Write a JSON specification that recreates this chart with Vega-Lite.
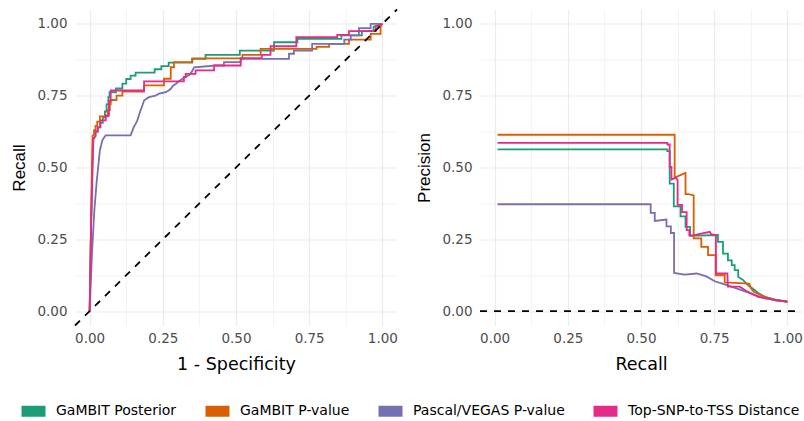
{
  "$schema": "https://vega.github.io/schema/vega-lite/v6.json",
  "background": "white",
  "padding": {"left": 10, "top": 5.5, "right": 0, "bottom": 2},
  "datasets": {
    "roc": [
      {"method": "GaMBIT Posterior", "x": 0, "y": 0},
      {"method": "GaMBIT Posterior", "x": 0.004, "y": 0.25},
      {"method": "GaMBIT Posterior", "x": 0.008, "y": 0.45},
      {"method": "GaMBIT Posterior", "x": 0.011, "y": 0.59},
      {"method": "GaMBIT Posterior", "x": 0.013, "y": 0.6},
      {"method": "GaMBIT Posterior", "x": 0.02, "y": 0.61},
      {"method": "GaMBIT Posterior", "x": 0.02, "y": 0.625},
      {"method": "GaMBIT Posterior", "x": 0.028, "y": 0.625},
      {"method": "GaMBIT Posterior", "x": 0.028, "y": 0.64},
      {"method": "GaMBIT Posterior", "x": 0.036, "y": 0.64},
      {"method": "GaMBIT Posterior", "x": 0.036, "y": 0.655},
      {"method": "GaMBIT Posterior", "x": 0.045, "y": 0.655},
      {"method": "GaMBIT Posterior", "x": 0.045, "y": 0.675},
      {"method": "GaMBIT Posterior", "x": 0.052, "y": 0.675},
      {"method": "GaMBIT Posterior", "x": 0.052, "y": 0.695},
      {"method": "GaMBIT Posterior", "x": 0.058, "y": 0.695},
      {"method": "GaMBIT Posterior", "x": 0.058, "y": 0.72},
      {"method": "GaMBIT Posterior", "x": 0.064, "y": 0.72},
      {"method": "GaMBIT Posterior", "x": 0.064, "y": 0.745},
      {"method": "GaMBIT Posterior", "x": 0.068, "y": 0.745},
      {"method": "GaMBIT Posterior", "x": 0.068, "y": 0.762},
      {"method": "GaMBIT Posterior", "x": 0.09, "y": 0.762},
      {"method": "GaMBIT Posterior", "x": 0.09, "y": 0.775},
      {"method": "GaMBIT Posterior", "x": 0.112, "y": 0.775},
      {"method": "GaMBIT Posterior", "x": 0.112, "y": 0.792},
      {"method": "GaMBIT Posterior", "x": 0.125, "y": 0.792},
      {"method": "GaMBIT Posterior", "x": 0.125, "y": 0.808},
      {"method": "GaMBIT Posterior", "x": 0.14, "y": 0.808},
      {"method": "GaMBIT Posterior", "x": 0.14, "y": 0.82},
      {"method": "GaMBIT Posterior", "x": 0.157, "y": 0.82},
      {"method": "GaMBIT Posterior", "x": 0.157, "y": 0.83},
      {"method": "GaMBIT Posterior", "x": 0.222, "y": 0.83},
      {"method": "GaMBIT Posterior", "x": 0.222, "y": 0.842},
      {"method": "GaMBIT Posterior", "x": 0.245, "y": 0.842},
      {"method": "GaMBIT Posterior", "x": 0.245, "y": 0.853},
      {"method": "GaMBIT Posterior", "x": 0.27, "y": 0.853},
      {"method": "GaMBIT Posterior", "x": 0.27, "y": 0.865},
      {"method": "GaMBIT Posterior", "x": 0.35, "y": 0.865},
      {"method": "GaMBIT Posterior", "x": 0.35, "y": 0.878},
      {"method": "GaMBIT Posterior", "x": 0.396, "y": 0.878},
      {"method": "GaMBIT Posterior", "x": 0.396, "y": 0.892},
      {"method": "GaMBIT Posterior", "x": 0.513, "y": 0.892},
      {"method": "GaMBIT Posterior", "x": 0.513, "y": 0.907},
      {"method": "GaMBIT Posterior", "x": 0.63, "y": 0.907},
      {"method": "GaMBIT Posterior", "x": 0.63, "y": 0.936},
      {"method": "GaMBIT Posterior", "x": 0.71, "y": 0.936},
      {"method": "GaMBIT Posterior", "x": 0.71, "y": 0.948},
      {"method": "GaMBIT Posterior", "x": 0.86, "y": 0.948},
      {"method": "GaMBIT Posterior", "x": 0.86, "y": 0.96},
      {"method": "GaMBIT Posterior", "x": 0.93, "y": 0.96},
      {"method": "GaMBIT Posterior", "x": 0.93, "y": 0.975},
      {"method": "GaMBIT Posterior", "x": 0.97, "y": 0.975},
      {"method": "GaMBIT Posterior", "x": 0.97, "y": 0.99},
      {"method": "GaMBIT Posterior", "x": 1, "y": 1},

      {"method": "GaMBIT P-value", "x": 0, "y": 0},
      {"method": "GaMBIT P-value", "x": 0.004, "y": 0.25},
      {"method": "GaMBIT P-value", "x": 0.008, "y": 0.5},
      {"method": "GaMBIT P-value", "x": 0.01, "y": 0.61},
      {"method": "GaMBIT P-value", "x": 0.015, "y": 0.615},
      {"method": "GaMBIT P-value", "x": 0.015, "y": 0.63},
      {"method": "GaMBIT P-value", "x": 0.02, "y": 0.63},
      {"method": "GaMBIT P-value", "x": 0.02, "y": 0.645},
      {"method": "GaMBIT P-value", "x": 0.026, "y": 0.645},
      {"method": "GaMBIT P-value", "x": 0.026, "y": 0.66},
      {"method": "GaMBIT P-value", "x": 0.035, "y": 0.66},
      {"method": "GaMBIT P-value", "x": 0.035, "y": 0.678},
      {"method": "GaMBIT P-value", "x": 0.062, "y": 0.678},
      {"method": "GaMBIT P-value", "x": 0.062, "y": 0.7},
      {"method": "GaMBIT P-value", "x": 0.069, "y": 0.7},
      {"method": "GaMBIT P-value", "x": 0.069, "y": 0.72},
      {"method": "GaMBIT P-value", "x": 0.072, "y": 0.72},
      {"method": "GaMBIT P-value", "x": 0.072, "y": 0.735},
      {"method": "GaMBIT P-value", "x": 0.092, "y": 0.735},
      {"method": "GaMBIT P-value", "x": 0.092, "y": 0.75},
      {"method": "GaMBIT P-value", "x": 0.112, "y": 0.75},
      {"method": "GaMBIT P-value", "x": 0.112, "y": 0.764},
      {"method": "GaMBIT P-value", "x": 0.186, "y": 0.764},
      {"method": "GaMBIT P-value", "x": 0.186, "y": 0.786},
      {"method": "GaMBIT P-value", "x": 0.254, "y": 0.786},
      {"method": "GaMBIT P-value", "x": 0.254, "y": 0.809},
      {"method": "GaMBIT P-value", "x": 0.277, "y": 0.809},
      {"method": "GaMBIT P-value", "x": 0.277, "y": 0.849},
      {"method": "GaMBIT P-value", "x": 0.288, "y": 0.849},
      {"method": "GaMBIT P-value", "x": 0.288, "y": 0.867},
      {"method": "GaMBIT P-value", "x": 0.351, "y": 0.867},
      {"method": "GaMBIT P-value", "x": 0.351, "y": 0.88},
      {"method": "GaMBIT P-value", "x": 0.522, "y": 0.88},
      {"method": "GaMBIT P-value", "x": 0.522, "y": 0.892},
      {"method": "GaMBIT P-value", "x": 0.584, "y": 0.892},
      {"method": "GaMBIT P-value", "x": 0.584, "y": 0.913},
      {"method": "GaMBIT P-value", "x": 0.775, "y": 0.913},
      {"method": "GaMBIT P-value", "x": 0.775, "y": 0.92},
      {"method": "GaMBIT P-value", "x": 0.818, "y": 0.92},
      {"method": "GaMBIT P-value", "x": 0.818, "y": 0.93},
      {"method": "GaMBIT P-value", "x": 0.886, "y": 0.93},
      {"method": "GaMBIT P-value", "x": 0.886, "y": 0.945},
      {"method": "GaMBIT P-value", "x": 0.96, "y": 0.945},
      {"method": "GaMBIT P-value", "x": 0.96, "y": 0.965},
      {"method": "GaMBIT P-value", "x": 0.994, "y": 0.965},
      {"method": "GaMBIT P-value", "x": 0.994, "y": 0.99},
      {"method": "GaMBIT P-value", "x": 1, "y": 1},

      {"method": "Pascal/VEGAS P-value", "x": 0, "y": 0},
      {"method": "Pascal/VEGAS P-value", "x": 0.008, "y": 0.2},
      {"method": "Pascal/VEGAS P-value", "x": 0.016, "y": 0.35},
      {"method": "Pascal/VEGAS P-value", "x": 0.024, "y": 0.45},
      {"method": "Pascal/VEGAS P-value", "x": 0.028, "y": 0.49},
      {"method": "Pascal/VEGAS P-value", "x": 0.032, "y": 0.53},
      {"method": "Pascal/VEGAS P-value", "x": 0.035, "y": 0.56},
      {"method": "Pascal/VEGAS P-value", "x": 0.04, "y": 0.58},
      {"method": "Pascal/VEGAS P-value", "x": 0.043, "y": 0.594},
      {"method": "Pascal/VEGAS P-value", "x": 0.05, "y": 0.605},
      {"method": "Pascal/VEGAS P-value", "x": 0.055, "y": 0.612},
      {"method": "Pascal/VEGAS P-value", "x": 0.14, "y": 0.612},
      {"method": "Pascal/VEGAS P-value", "x": 0.145, "y": 0.625},
      {"method": "Pascal/VEGAS P-value", "x": 0.151, "y": 0.641},
      {"method": "Pascal/VEGAS P-value", "x": 0.157, "y": 0.652},
      {"method": "Pascal/VEGAS P-value", "x": 0.163, "y": 0.664},
      {"method": "Pascal/VEGAS P-value", "x": 0.168, "y": 0.68},
      {"method": "Pascal/VEGAS P-value", "x": 0.174, "y": 0.699},
      {"method": "Pascal/VEGAS P-value", "x": 0.18, "y": 0.715},
      {"method": "Pascal/VEGAS P-value", "x": 0.186, "y": 0.733},
      {"method": "Pascal/VEGAS P-value", "x": 0.195, "y": 0.74},
      {"method": "Pascal/VEGAS P-value", "x": 0.203, "y": 0.745},
      {"method": "Pascal/VEGAS P-value", "x": 0.225, "y": 0.75},
      {"method": "Pascal/VEGAS P-value", "x": 0.237, "y": 0.757},
      {"method": "Pascal/VEGAS P-value", "x": 0.26, "y": 0.762},
      {"method": "Pascal/VEGAS P-value", "x": 0.27, "y": 0.768},
      {"method": "Pascal/VEGAS P-value", "x": 0.277, "y": 0.774},
      {"method": "Pascal/VEGAS P-value", "x": 0.285, "y": 0.785},
      {"method": "Pascal/VEGAS P-value", "x": 0.294, "y": 0.791},
      {"method": "Pascal/VEGAS P-value", "x": 0.305, "y": 0.8},
      {"method": "Pascal/VEGAS P-value", "x": 0.317, "y": 0.809},
      {"method": "Pascal/VEGAS P-value", "x": 0.328, "y": 0.815},
      {"method": "Pascal/VEGAS P-value", "x": 0.34, "y": 0.822},
      {"method": "Pascal/VEGAS P-value", "x": 0.35, "y": 0.835},
      {"method": "Pascal/VEGAS P-value", "x": 0.357, "y": 0.849},
      {"method": "Pascal/VEGAS P-value", "x": 0.43, "y": 0.855},
      {"method": "Pascal/VEGAS P-value", "x": 0.459, "y": 0.855},
      {"method": "Pascal/VEGAS P-value", "x": 0.459, "y": 0.867},
      {"method": "Pascal/VEGAS P-value", "x": 0.516, "y": 0.867},
      {"method": "Pascal/VEGAS P-value", "x": 0.516, "y": 0.878},
      {"method": "Pascal/VEGAS P-value", "x": 0.681, "y": 0.878},
      {"method": "Pascal/VEGAS P-value", "x": 0.681, "y": 0.896},
      {"method": "Pascal/VEGAS P-value", "x": 0.698, "y": 0.896},
      {"method": "Pascal/VEGAS P-value", "x": 0.698, "y": 0.907},
      {"method": "Pascal/VEGAS P-value", "x": 0.76, "y": 0.907},
      {"method": "Pascal/VEGAS P-value", "x": 0.76, "y": 0.93},
      {"method": "Pascal/VEGAS P-value", "x": 0.87, "y": 0.93},
      {"method": "Pascal/VEGAS P-value", "x": 0.87, "y": 0.945},
      {"method": "Pascal/VEGAS P-value", "x": 0.892, "y": 0.945},
      {"method": "Pascal/VEGAS P-value", "x": 0.892, "y": 0.96},
      {"method": "Pascal/VEGAS P-value", "x": 0.92, "y": 0.96},
      {"method": "Pascal/VEGAS P-value", "x": 0.92, "y": 0.985},
      {"method": "Pascal/VEGAS P-value", "x": 0.96, "y": 0.985},
      {"method": "Pascal/VEGAS P-value", "x": 0.96, "y": 1},
      {"method": "Pascal/VEGAS P-value", "x": 1, "y": 1},

      {"method": "Top-SNP-to-TSS Distance", "x": 0, "y": 0},
      {"method": "Top-SNP-to-TSS Distance", "x": 0.005, "y": 0.3},
      {"method": "Top-SNP-to-TSS Distance", "x": 0.01, "y": 0.5},
      {"method": "Top-SNP-to-TSS Distance", "x": 0.013, "y": 0.6},
      {"method": "Top-SNP-to-TSS Distance", "x": 0.02, "y": 0.61},
      {"method": "Top-SNP-to-TSS Distance", "x": 0.02, "y": 0.625},
      {"method": "Top-SNP-to-TSS Distance", "x": 0.027, "y": 0.625},
      {"method": "Top-SNP-to-TSS Distance", "x": 0.027, "y": 0.64},
      {"method": "Top-SNP-to-TSS Distance", "x": 0.037, "y": 0.64},
      {"method": "Top-SNP-to-TSS Distance", "x": 0.037, "y": 0.664},
      {"method": "Top-SNP-to-TSS Distance", "x": 0.055, "y": 0.664},
      {"method": "Top-SNP-to-TSS Distance", "x": 0.055, "y": 0.681},
      {"method": "Top-SNP-to-TSS Distance", "x": 0.066, "y": 0.681},
      {"method": "Top-SNP-to-TSS Distance", "x": 0.066, "y": 0.733},
      {"method": "Top-SNP-to-TSS Distance", "x": 0.072, "y": 0.733},
      {"method": "Top-SNP-to-TSS Distance", "x": 0.072, "y": 0.768},
      {"method": "Top-SNP-to-TSS Distance", "x": 0.186, "y": 0.768},
      {"method": "Top-SNP-to-TSS Distance", "x": 0.186, "y": 0.8},
      {"method": "Top-SNP-to-TSS Distance", "x": 0.322, "y": 0.8},
      {"method": "Top-SNP-to-TSS Distance", "x": 0.322, "y": 0.815},
      {"method": "Top-SNP-to-TSS Distance", "x": 0.328, "y": 0.815},
      {"method": "Top-SNP-to-TSS Distance", "x": 0.328, "y": 0.826},
      {"method": "Top-SNP-to-TSS Distance", "x": 0.362, "y": 0.826},
      {"method": "Top-SNP-to-TSS Distance", "x": 0.362, "y": 0.838},
      {"method": "Top-SNP-to-TSS Distance", "x": 0.425, "y": 0.838},
      {"method": "Top-SNP-to-TSS Distance", "x": 0.425, "y": 0.855},
      {"method": "Top-SNP-to-TSS Distance", "x": 0.516, "y": 0.855},
      {"method": "Top-SNP-to-TSS Distance", "x": 0.516, "y": 0.881},
      {"method": "Top-SNP-to-TSS Distance", "x": 0.588, "y": 0.881},
      {"method": "Top-SNP-to-TSS Distance", "x": 0.588, "y": 0.892},
      {"method": "Top-SNP-to-TSS Distance", "x": 0.618, "y": 0.892},
      {"method": "Top-SNP-to-TSS Distance", "x": 0.618, "y": 0.922},
      {"method": "Top-SNP-to-TSS Distance", "x": 0.706, "y": 0.922},
      {"method": "Top-SNP-to-TSS Distance", "x": 0.706, "y": 0.954},
      {"method": "Top-SNP-to-TSS Distance", "x": 0.846, "y": 0.954},
      {"method": "Top-SNP-to-TSS Distance", "x": 0.846, "y": 0.962},
      {"method": "Top-SNP-to-TSS Distance", "x": 0.886, "y": 0.962},
      {"method": "Top-SNP-to-TSS Distance", "x": 0.886, "y": 0.975},
      {"method": "Top-SNP-to-TSS Distance", "x": 0.977, "y": 0.975},
      {"method": "Top-SNP-to-TSS Distance", "x": 0.977, "y": 0.99},
      {"method": "Top-SNP-to-TSS Distance", "x": 1, "y": 1}
    ],
    "pr": [
      {"method": "GaMBIT Posterior", "x": 0.01, "y": 0.563},
      {"method": "GaMBIT Posterior", "x": 0.59, "y": 0.563},
      {"method": "GaMBIT Posterior", "x": 0.59, "y": 0.557},
      {"method": "GaMBIT Posterior", "x": 0.598, "y": 0.557},
      {"method": "GaMBIT Posterior", "x": 0.598, "y": 0.444},
      {"method": "GaMBIT Posterior", "x": 0.612, "y": 0.444},
      {"method": "GaMBIT Posterior", "x": 0.612, "y": 0.365},
      {"method": "GaMBIT Posterior", "x": 0.635, "y": 0.365},
      {"method": "GaMBIT Posterior", "x": 0.635, "y": 0.33},
      {"method": "GaMBIT Posterior", "x": 0.652, "y": 0.33},
      {"method": "GaMBIT Posterior", "x": 0.652, "y": 0.293},
      {"method": "GaMBIT Posterior", "x": 0.668, "y": 0.293},
      {"method": "GaMBIT Posterior", "x": 0.668, "y": 0.262},
      {"method": "GaMBIT Posterior", "x": 0.763, "y": 0.265},
      {"method": "GaMBIT Posterior", "x": 0.763, "y": 0.241},
      {"method": "GaMBIT Posterior", "x": 0.78, "y": 0.241},
      {"method": "GaMBIT Posterior", "x": 0.78, "y": 0.2},
      {"method": "GaMBIT Posterior", "x": 0.797, "y": 0.2},
      {"method": "GaMBIT Posterior", "x": 0.797, "y": 0.177},
      {"method": "GaMBIT Posterior", "x": 0.81, "y": 0.177},
      {"method": "GaMBIT Posterior", "x": 0.81, "y": 0.16},
      {"method": "GaMBIT Posterior", "x": 0.82, "y": 0.16},
      {"method": "GaMBIT Posterior", "x": 0.82, "y": 0.143},
      {"method": "GaMBIT Posterior", "x": 0.832, "y": 0.143},
      {"method": "GaMBIT Posterior", "x": 0.832, "y": 0.12},
      {"method": "GaMBIT Posterior", "x": 0.849, "y": 0.108},
      {"method": "GaMBIT Posterior", "x": 0.866, "y": 0.09},
      {"method": "GaMBIT Posterior", "x": 0.889, "y": 0.073},
      {"method": "GaMBIT Posterior", "x": 0.905, "y": 0.06},
      {"method": "GaMBIT Posterior", "x": 0.923, "y": 0.05},
      {"method": "GaMBIT Posterior", "x": 0.96, "y": 0.04},
      {"method": "GaMBIT Posterior", "x": 1, "y": 0.033},

      {"method": "GaMBIT P-value", "x": 0.01, "y": 0.614},
      {"method": "GaMBIT P-value", "x": 0.615, "y": 0.614},
      {"method": "GaMBIT P-value", "x": 0.615, "y": 0.465},
      {"method": "GaMBIT P-value", "x": 0.652, "y": 0.481},
      {"method": "GaMBIT P-value", "x": 0.652, "y": 0.407},
      {"method": "GaMBIT P-value", "x": 0.662, "y": 0.407},
      {"method": "GaMBIT P-value", "x": 0.68, "y": 0.403},
      {"method": "GaMBIT P-value", "x": 0.68, "y": 0.253},
      {"method": "GaMBIT P-value", "x": 0.706, "y": 0.253},
      {"method": "GaMBIT P-value", "x": 0.706, "y": 0.224},
      {"method": "GaMBIT P-value", "x": 0.729, "y": 0.224},
      {"method": "GaMBIT P-value", "x": 0.729, "y": 0.195},
      {"method": "GaMBIT P-value", "x": 0.755, "y": 0.195},
      {"method": "GaMBIT P-value", "x": 0.755, "y": 0.125},
      {"method": "GaMBIT P-value", "x": 0.786, "y": 0.125},
      {"method": "GaMBIT P-value", "x": 0.786, "y": 0.1},
      {"method": "GaMBIT P-value", "x": 0.87, "y": 0.096},
      {"method": "GaMBIT P-value", "x": 0.875, "y": 0.08},
      {"method": "GaMBIT P-value", "x": 0.885, "y": 0.067},
      {"method": "GaMBIT P-value", "x": 0.923, "y": 0.05},
      {"method": "GaMBIT P-value", "x": 0.96, "y": 0.037},
      {"method": "GaMBIT P-value", "x": 1, "y": 0.033},

      {"method": "Pascal/VEGAS P-value", "x": 0.01, "y": 0.372},
      {"method": "Pascal/VEGAS P-value", "x": 0.533, "y": 0.372},
      {"method": "Pascal/VEGAS P-value", "x": 0.533, "y": 0.342},
      {"method": "Pascal/VEGAS P-value", "x": 0.547, "y": 0.342},
      {"method": "Pascal/VEGAS P-value", "x": 0.547, "y": 0.314},
      {"method": "Pascal/VEGAS P-value", "x": 0.587, "y": 0.319},
      {"method": "Pascal/VEGAS P-value", "x": 0.587, "y": 0.295},
      {"method": "Pascal/VEGAS P-value", "x": 0.602, "y": 0.295},
      {"method": "Pascal/VEGAS P-value", "x": 0.602, "y": 0.272},
      {"method": "Pascal/VEGAS P-value", "x": 0.613, "y": 0.272},
      {"method": "Pascal/VEGAS P-value", "x": 0.613, "y": 0.133},
      {"method": "Pascal/VEGAS P-value", "x": 0.649, "y": 0.127},
      {"method": "Pascal/VEGAS P-value", "x": 0.69, "y": 0.131},
      {"method": "Pascal/VEGAS P-value", "x": 0.723, "y": 0.121},
      {"method": "Pascal/VEGAS P-value", "x": 0.752, "y": 0.104},
      {"method": "Pascal/VEGAS P-value", "x": 0.78, "y": 0.095},
      {"method": "Pascal/VEGAS P-value", "x": 0.809, "y": 0.085},
      {"method": "Pascal/VEGAS P-value", "x": 0.86, "y": 0.067},
      {"method": "Pascal/VEGAS P-value", "x": 0.923, "y": 0.044},
      {"method": "Pascal/VEGAS P-value", "x": 1, "y": 0.032},

      {"method": "Top-SNP-to-TSS Distance", "x": 0.01, "y": 0.586},
      {"method": "Top-SNP-to-TSS Distance", "x": 0.59, "y": 0.586},
      {"method": "Top-SNP-to-TSS Distance", "x": 0.59, "y": 0.58},
      {"method": "Top-SNP-to-TSS Distance", "x": 0.598, "y": 0.58},
      {"method": "Top-SNP-to-TSS Distance", "x": 0.598, "y": 0.502},
      {"method": "Top-SNP-to-TSS Distance", "x": 0.604, "y": 0.502},
      {"method": "Top-SNP-to-TSS Distance", "x": 0.604, "y": 0.458},
      {"method": "Top-SNP-to-TSS Distance", "x": 0.62, "y": 0.465},
      {"method": "Top-SNP-to-TSS Distance", "x": 0.625, "y": 0.455},
      {"method": "Top-SNP-to-TSS Distance", "x": 0.625, "y": 0.37},
      {"method": "Top-SNP-to-TSS Distance", "x": 0.64, "y": 0.37},
      {"method": "Top-SNP-to-TSS Distance", "x": 0.64, "y": 0.345},
      {"method": "Top-SNP-to-TSS Distance", "x": 0.656, "y": 0.345},
      {"method": "Top-SNP-to-TSS Distance", "x": 0.656, "y": 0.282},
      {"method": "Top-SNP-to-TSS Distance", "x": 0.665, "y": 0.282},
      {"method": "Top-SNP-to-TSS Distance", "x": 0.665, "y": 0.264},
      {"method": "Top-SNP-to-TSS Distance", "x": 0.678, "y": 0.264},
      {"method": "Top-SNP-to-TSS Distance", "x": 0.735, "y": 0.276},
      {"method": "Top-SNP-to-TSS Distance", "x": 0.74, "y": 0.268},
      {"method": "Top-SNP-to-TSS Distance", "x": 0.756, "y": 0.264},
      {"method": "Top-SNP-to-TSS Distance", "x": 0.756, "y": 0.131},
      {"method": "Top-SNP-to-TSS Distance", "x": 0.795, "y": 0.131},
      {"method": "Top-SNP-to-TSS Distance", "x": 0.797, "y": 0.085},
      {"method": "Top-SNP-to-TSS Distance", "x": 0.837, "y": 0.085},
      {"method": "Top-SNP-to-TSS Distance", "x": 0.86, "y": 0.07},
      {"method": "Top-SNP-to-TSS Distance", "x": 0.9, "y": 0.05},
      {"method": "Top-SNP-to-TSS Distance", "x": 0.95, "y": 0.04},
      {"method": "Top-SNP-to-TSS Distance", "x": 1, "y": 0.033}
    ],
    "diag": [{"x": -0.05, "y": -0.05}, {"x": 1.05, "y": 1.05}],
    "hz": [{"x": -0.05, "y": 0}, {"x": 1.05, "y": 0}]
  },
  "resolve": {"scale": {"color": "shared"}, "legend": {"color": "shared"}},
  "hconcat": [
    {
      "width": 322,
      "height": 316,
      "encoding": {
        "x": {"field": "x", "type": "quantitative", "title": "1 - Specificity",
              "scale": {"domain": [-0.05, 1.05], "nice": false, "zero": false},
              "axis": {"values": [0, 0.125, 0.25, 0.375, 0.5, 0.625, 0.75, 0.875, 1],
                       "labelExpr": "datum.value % 0.25 == 0 ? format(datum.value, '.2f') : ''",
                       "gridWidth": {"condition": {"test": "datum.value % 0.25 == 0", "value": 1.2}, "value": 0.6}}},
        "y": {"field": "y", "type": "quantitative", "title": "Recall",
              "scale": {"domain": [-0.05, 1.05], "nice": false, "zero": false},
              "axis": {"values": [0, 0.125, 0.25, 0.375, 0.5, 0.625, 0.75, 0.875, 1],
                       "labelExpr": "datum.value % 0.25 == 0 ? format(datum.value, '.2f') : ''",
                       "gridWidth": {"condition": {"test": "datum.value % 0.25 == 0", "value": 1.2}, "value": 0.6}}}
      },
      "layer": [
        {
          "data": {"name": "roc"},
          "mark": {"type": "line", "strokeWidth": 1.8},
          "encoding": {
            "color": {"field": "method", "type": "nominal",
                      "scale": {"domain": ["GaMBIT Posterior", "GaMBIT P-value", "Pascal/VEGAS P-value", "Top-SNP-to-TSS Distance"],
                                "range": ["#1B9E77", "#D95F02", "#7570B3", "#E7298A"]}},
            "order": {"value": null}
          }
        },
        {
          "data": {"name": "diag"},
          "mark": {"type": "line", "color": "black", "strokeWidth": 1.8, "strokeDash": [7, 7]},
          "encoding": {}
        }
      ]
    },
    {
      "width": 322,
      "height": 316,
      "encoding": {
        "x": {"field": "x", "type": "quantitative", "title": "Recall",
              "scale": {"domain": [-0.05, 1.05], "nice": false, "zero": false},
              "axis": {"values": [0, 0.125, 0.25, 0.375, 0.5, 0.625, 0.75, 0.875, 1],
                       "labelExpr": "datum.value % 0.25 == 0 ? format(datum.value, '.2f') : ''",
                       "gridWidth": {"condition": {"test": "datum.value % 0.25 == 0", "value": 1.2}, "value": 0.6}}},
        "y": {"field": "y", "type": "quantitative", "title": "Precision",
              "scale": {"domain": [-0.05, 1.05], "nice": false, "zero": false},
              "axis": {"values": [0, 0.125, 0.25, 0.375, 0.5, 0.625, 0.75, 0.875, 1],
                       "labelExpr": "datum.value % 0.25 == 0 ? format(datum.value, '.2f') : ''",
                       "gridWidth": {"condition": {"test": "datum.value % 0.25 == 0", "value": 1.2}, "value": 0.6}}}
      },
      "layer": [
        {
          "data": {"name": "pr"},
          "mark": {"type": "line", "strokeWidth": 1.8},
          "encoding": {
            "color": {"field": "method", "type": "nominal",
                      "scale": {"domain": ["GaMBIT Posterior", "GaMBIT P-value", "Pascal/VEGAS P-value", "Top-SNP-to-TSS Distance"],
                                "range": ["#1B9E77", "#D95F02", "#7570B3", "#E7298A"]}},
            "order": {"value": null}
          }
        },
        {
          "data": {"name": "hz"},
          "mark": {"type": "line", "color": "black", "strokeWidth": 1.8, "strokeDash": [7, 7]},
          "encoding": {}
        }
      ]
    }
  ],
  "config": {
    "view": {"stroke": null},
    "concat": {"spacing": 14},
    "axis": {
      "domain": false,
      "ticks": false,
      "gridColor": "#EBEBEB",
      "labelFont": "DejaVu Sans",
      "labelFontSize": 13.5,
      "labelColor": "#4D4D4D",
      "labelFlush": false,
      "labelOverlap": false,
      "labelPadding": 6,
      "titleFont": "DejaVu Sans",
      "titleFontSize": 17.5,
      "titleFontWeight": "normal",
      "titleColor": "#000000",
      "titlePadding": 10
    },
    "axisY": {"titleFont": "Liberation Sans", "titleFontSize": 17, "labelPadding": 8, "titlePadding": 8},
    "legend": {
      "orient": "bottom",
      "direction": "horizontal",
      "title": null,
      "symbolType": "stroke",
      "symbolStrokeWidth": 11,
      "symbolSize": 576,
      "labelFont": "DejaVu Sans",
      "labelFontSize": 14,
      "labelColor": "#000000",
      "labelOffset": 5,
      "columnPadding": 6,
      "labelLimit": 0,
      "offset": 21,
      "layout": {"bottom": {"anchor": "middle"}}
    }
  }
}
